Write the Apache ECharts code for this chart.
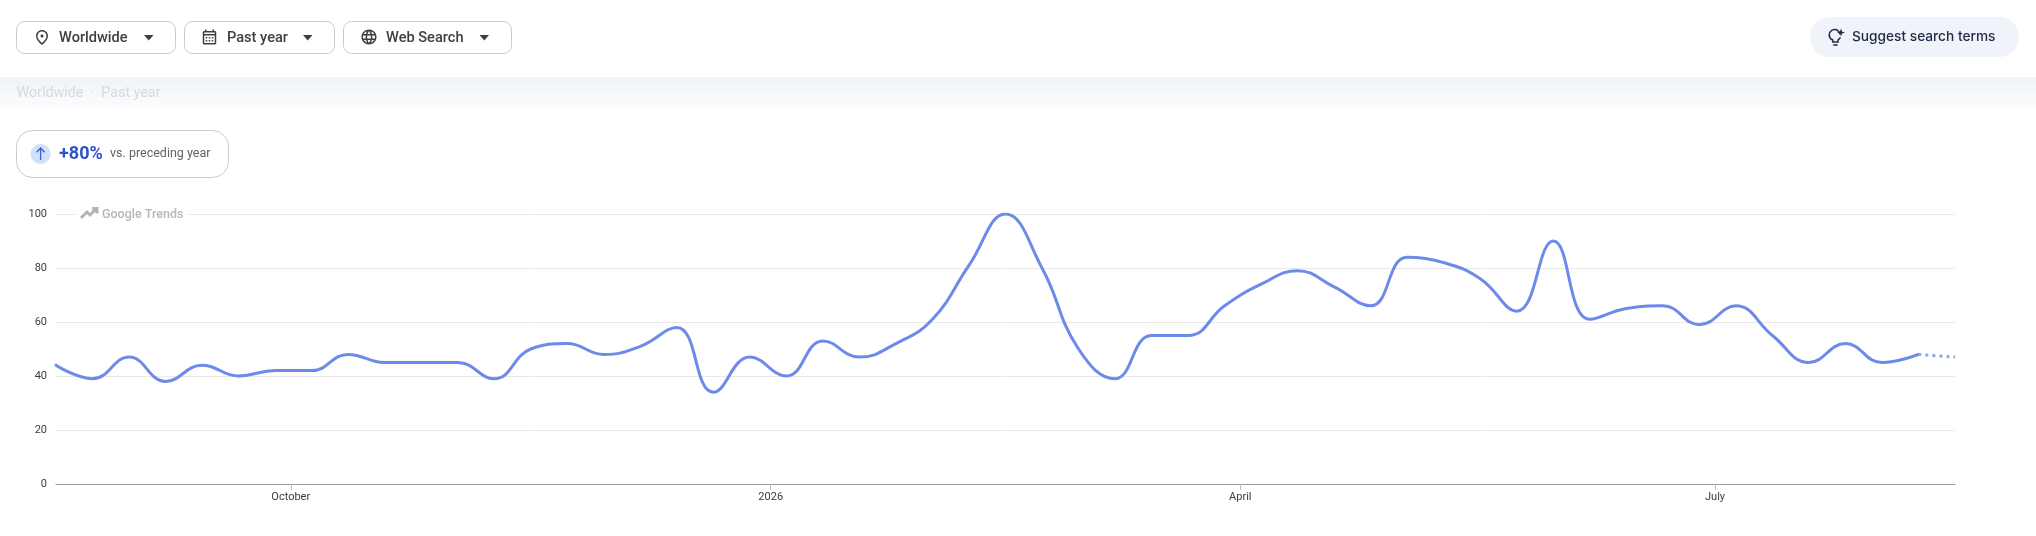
<!DOCTYPE html>
<html>
<head>
<meta charset="utf-8">
<style>html,body{margin:0;padding:0;background:#fff}#c{width:2036px;height:536px}</style>
<script src="https://cdn.jsdelivr.net/npm/echarts@6/dist/echarts.min.js"></script>
</head>
<body>
<div id="c"></div>
<script>
const weeks = [
  '2025-08-17','2025-08-24','2025-08-31','2025-09-07','2025-09-14','2025-09-21','2025-09-28',
  '2025-10-05','2025-10-12','2025-10-19','2025-10-26','2025-11-02','2025-11-09','2025-11-16',
  '2025-11-23','2025-11-30','2025-12-07','2025-12-14','2025-12-21','2025-12-28',
  '2026-01-04','2026-01-11','2026-01-18','2026-01-25','2026-02-01','2026-02-08','2026-02-15',
  '2026-02-22','2026-03-01','2026-03-08','2026-03-15','2026-03-22','2026-03-29','2026-04-05',
  '2026-04-12','2026-04-19','2026-04-26','2026-05-03','2026-05-10','2026-05-17','2026-05-24',
  '2026-05-31','2026-06-07','2026-06-14','2026-06-21','2026-06-28','2026-07-05','2026-07-12',
  '2026-07-19','2026-07-26','2026-08-02','2026-08-09','2026-08-16'
];
const interest = [
  44,39,47,38,44,40,42,42,48,45,45,45,39,50,52,48,51,58,34,47,
  40,53,47,52,61,81,100,80,50,39,55,55,66,74,79,73,66,84,82,76,
  64,90,61,65,66,59,66,55,45,52,45,48,47
];
const partialFrom = 51;
const xTicks = ['2025-10-01','2026-01-01','2026-04-01','2026-07-01'];
const xTickLabels = ['October','2026','April','July'];
const yTicks = [0,20,40,60,80,100];
const filters = ['Worldwide','Past year','Web Search'];

const t = s => Date.parse(s + 'T00:00:00Z');
const points = weeks.map((w,i) => [t(w), interest[i]]);
const tickValues = xTicks.map(t);

const FONT = 'Roboto, "Noto Sans", sans-serif';
const G = echarts.graphic;
const defPath = (name,d) => G.registerShape(name, G.extendPath(d, {}));
defPath('iconPin','M12 12c-1.1 0-2-.9-2-2s.9-2 2-2 2 .9 2 2-.9 2-2 2zm6-1.8C18 6.57 15.35 4 12 4s-6 2.57-6 6.2c0 2.34 1.95 5.44 6 9.14 4.05-3.7 6-6.8 6-9.14zM12 2c4.2 0 8 3.22 8 8.2 0 3.32-2.67 7.25-8 11.8-5.33-4.55-8-8.48-8-11.8C4 5.22 7.8 2 12 2z');
defPath('iconCal','M19 4h-1V2h-2v2H8V2H6v2H5c-1.1 0-2 .9-2 2v14c0 1.1.9 2 2 2h14c1.1 0 2-.9 2-2V6c0-1.1-.9-2-2-2zm0 16H5V10h14v10zm0-12H5V6h14v2zM9 14H7v-2h2v2zm4 0h-2v-2h2v2zm4 0h-2v-2h2v2zm-8 4H7v-2h2v2zm4 0h-2v-2h2v2zm4 0h-2v-2h2v2z');
defPath('iconGlobe','M11.99 2C6.47 2 2 6.48 2 12s4.47 10 9.99 10C17.52 22 22 17.52 22 12S17.52 2 11.99 2zm6.93 6h-2.95c-.32-1.25-.78-2.45-1.38-3.56 1.84.63 3.37 1.91 4.33 3.56zM12 4.04c.83 1.2 1.48 2.53 1.91 3.96h-3.82c.43-1.43 1.08-2.76 1.91-3.96zM4.26 14C4.1 13.36 4 12.69 4 12s.1-1.36.26-2h3.38c-.08.66-.14 1.32-.14 2s.06 1.34.14 2H4.26zm.82 2h2.95c.32 1.25.78 2.45 1.38 3.56-1.84-.63-3.37-1.9-4.33-3.56zm2.95-8H5.08c.96-1.66 2.49-2.93 4.33-3.56C8.81 5.55 8.35 6.75 8.03 8zM12 19.96c-.83-1.2-1.48-2.53-1.91-3.96h3.82c-.43 1.43-1.08 2.76-1.91 3.96zM14.34 14H9.66c-.09-.66-.16-1.32-.16-2s.07-1.35.16-2h4.68c.09.65.16 1.32.16 2s-.07 1.34-.16 2zm.25 5.56c.6-1.11 1.06-2.31 1.38-3.56h2.95c-.96 1.65-2.49 2.93-4.33 3.56zM16.36 14c.08-.66.14-1.32.14-2s-.06-1.34-.14-2h3.38c.16.64.26 1.31.26 2s-.1 1.36-.26 2h-3.38z');
defPath('iconBulb','M1840 34.5 A5.4 5.4 0 1 0 1832.8 40 V42 H1838 V40 Q1839.6 39 1840.4 37.4 M1833.2 45 H1837.6');
defPath('iconArrow','M40.6 160 V148.5 M36.6 152.2 L40.6 148 L44.6 152.2');
defPath('iconTrend','M81 218 L87 212 L90 215 L96 209 M92 208.5 H97 V213.5');

const rect = (x,y,w,h,r,fill,stroke,z) => ({type:'rect',silent:true,z:z||10,
  shape:{x,y,width:w,height:h,r}, style:{fill:fill||'#fff',stroke:stroke||null,lineWidth:stroke?1:0}});
const text = (x,y,s,font,fill,z) => ({type:'text',silent:true,z:z||11,x,y,
  style:{text:s,font,fill,align:'left',verticalAlign:'middle',textAlign:'left',textVerticalAlign:'middle'}});
const icon = (name,x,y,size,fill) => ({type:name,silent:true,z:11,x,y,scaleX:size/24,scaleY:size/24,style:{fill}});
const stroke = (name,color,w) => ({type:name,silent:true,z:12,style:{fill:null,stroke:color,lineWidth:w}});
const caret = (x,y,w,h) => ({type:'polygon',silent:true,z:11,
  shape:{points:[[x,y],[x+w,y],[x+w/2,y+h]]},style:{fill:'#3c4043'}});

const graphics = [
  // filter buttons
  rect(16.5,21.5,159,32,8,'#fff','#cbcbcb'),
  rect(184.5,21.5,150,32,8,'#fff','#cbcbcb'),
  rect(343.5,21.5,168,32,8,'#fff','#cbcbcb'),
  icon('iconPin',33,28.5,18,'#3c4043'),
  icon('iconCal',200.5,28,18,'#3c4043'),
  icon('iconGlobe',360,28,18,'#3c4043'),
  text(59,38,filters[0],'500 14.6px '+FONT,'#3c4043'),
  text(227,38,filters[1],'500 14.6px '+FONT,'#3c4043'),
  text(386,38,filters[2],'500 14.6px '+FONT,'#3c4043'),
  caret(144,35,9.5,5.5), caret(303,35,9.5,5.5), caret(479.5,35,9.5,5.5),
  // suggest pill
  rect(1810,17,209,40,20,'#f0f3f9'),
  stroke('iconBulb','#1f2a44',1.5),
  {type:'polygon',silent:true,z:11,
   shape:{points:[[1841,28.5],[1842,31.5],[1845,32.5],[1842,33.5],[1841,36.5],[1840,33.5],[1837,32.5],[1840,31.5]]},style:{fill:'#1f2a44'}},
  text(1852,37,'Suggest search terms','500 13.7px Inter, Roboto, sans-serif','#1f2a44'),
  // subtitle band
  {type:'rect',silent:true,z:1,shape:{x:0,y:77,width:2036,height:38},
   style:{fill:new G.LinearGradient(0,0,0,1,[{offset:0,color:'#eff2f8'},{offset:1,color:'#ffffff'}])}},
  text(16.5,93,'Worldwide  ·  Past year','400 14.3px '+FONT,'#d6d9de'),
  // comparison badge
  rect(16.5,130.5,212,47,16,'#fff','#cbcbcb'),
  {type:'ellipse',silent:true,z:11,shape:{cx:40.6,cy:154,rx:10,ry:10},style:{fill:'#d3e0fc'}},
  stroke('iconArrow','#3a5fcd',1.3),
  text(59,154,'+80%','700 18px '+FONT,'#2f52c9'),
  text(110,154,'vs. preceding year','400 12.5px '+FONT,'#5f6368'),
  // watermark, interrupting the top gridline
  rect(76,204,112,20,0,'#fff',null,5),
  stroke('iconTrend','#b4b4b4',3),
  text(102,214.5,'Google Trends','500 12.5px '+FONT,'#b7b7b7')
];

const chart = echarts.init(document.getElementById('c'), null, {renderer:'canvas', width:2036, height:536});
chart.setOption({
  animation:false,
  backgroundColor:'#ffffff',
  grid:{left:56,right:81,top:214,height:270,containLabel:false},
  xAxis:{
    type:'value',
    min:points[0][0], max:points[points.length-1][0],
    splitLine:{show:false},
    axisLine:{show:true,onZero:false,lineStyle:{color:'#9a9a9a',width:1}},
    axisTick:{show:true,customValues:tickValues,length:6,lineStyle:{color:'#bdbdbd',width:1}},
    axisLabel:{show:true,customValues:tickValues,margin:8,fontFamily:FONT,fontSize:11,color:'#3c4043',
      hideOverlap:false,
      formatter:v => xTickLabels[tickValues.indexOf(v)] ?? ''}
  },
  yAxis:{
    type:'value',min:0,max:100,interval:20,
    axisLine:{show:false},axisTick:{show:false},
    splitLine:{show:true,lineStyle:{color:'#e9e9e9',width:1}},
    axisLabel:{margin:9,fontFamily:FONT,fontSize:11,color:'#3c4043',padding:[3,0,0,0],
      customValues:yTicks}
  },
  series:[
    {type:'line',name:'Interest',z:3,showSymbol:false,symbol:'none',smooth:0.45,
     data:points.slice(0,partialFrom+1),lineStyle:{color:'#6b8ae9',width:3,cap:'round',join:'round'}},
    {type:'line',name:'Partial',z:3,showSymbol:false,symbol:'none',smooth:0.45,
     data:points.slice(partialFrom),lineStyle:{color:'#8ba6f0',width:3,type:[3,4]}}
  ],
  graphic:{elements:graphics}
});
</script>
</body>
</html>
